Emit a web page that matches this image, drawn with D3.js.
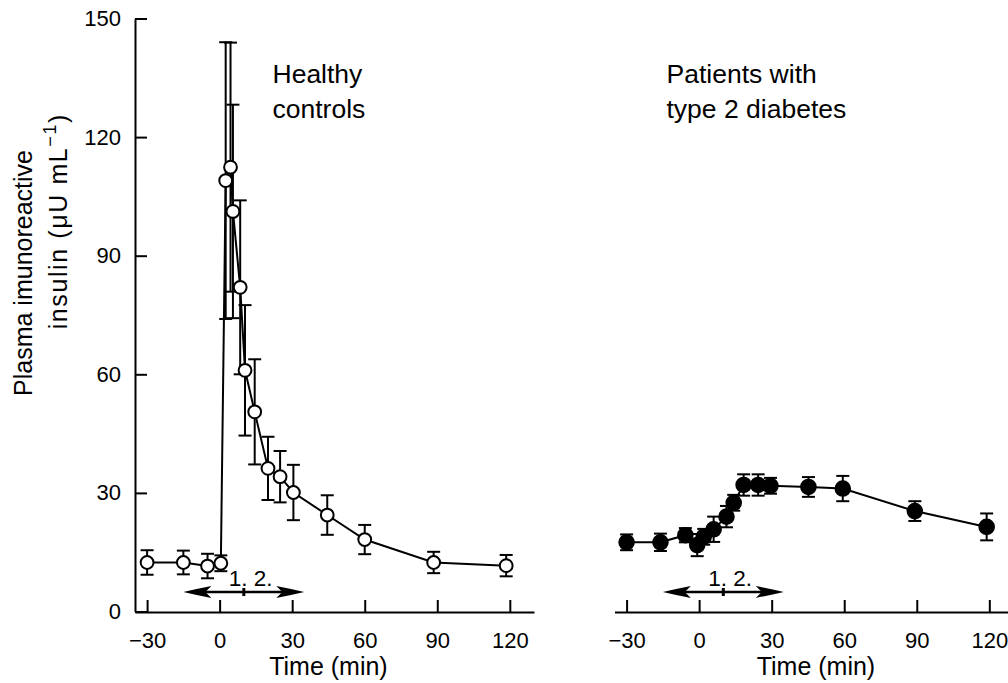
<!DOCTYPE html>
<html>
<head>
<meta charset="utf-8">
<script src="https://cdn.jsdelivr.net/npm/d3@7"></script>
<style>
  html, body { margin: 0; padding: 0; background: #fff; }
  svg { display: block; font-family: "Liberation Sans", Arial, Helvetica, sans-serif; }
</style>
</head>
<body>
<svg id="chart" width="1008" height="683"></svg>
<script>
// Healthy controls (open circles): time (min), mean insulin, SE
const healthyTime  = [-30, -15, -5, 0.5, 2.5, 4.5, 5.5, 8.5, 10.5, 14.5, 20, 25, 30.5, 44.5, 60, 88.5, 118.5];
const healthyMean  = [12.4, 12.4, 11.5, 12.2, 109, 112.4, 101.2, 82, 61, 50.5, 36.2, 34.1, 30.1, 24.4, 18.2, 12.4, 11.6];
const healthySE    = [3.1, 3, 3.1, 2, 35, 31.5, 27, 22, 16.5, 13.3, 8, 6.5, 7, 5, 3.7, 2.7, 2.7];

// Patients with type 2 diabetes (filled circles)
const diabetesTime = [-30, -16, -5.7, -0.8, 1.9, 6, 11.3, 14.3, 18.4, 24.4, 29.5, 45.2, 59.4, 89.2, 118.9];
const diabetesMean = [17.5, 17.5, 19.3, 16.8, 18.9, 20.8, 24, 27.5, 32, 32, 31.8, 31.5, 31.1, 25.4, 21.4];
const diabetesSE   = [2, 2.2, 1.8, 2.8, 2, 3.2, 2.7, 2, 2.7, 2.7, 2, 2.5, 3.2, 2.5, 3.4];

// Axis ticks
const xMajorTicks = [-30, 0, 30, 60, 90, 120];
const xMinorTicks = d3.range(-30, 131, 10);
const yMajorTicks = [0, 30, 60, 90, 120, 150];
const yMinorTicks = d3.range(0, 151, 15);

// Infusion period marker: from -15 to 35 min, split at 10 min
const infusionSpan = [-15, 35];
const infusionSplit = 10;

const svg = d3.select("#chart");

const y = d3.scaleLinear().domain([0, 150]).range([611.5, 18.5]);
const xLeft = d3.scaleLinear().domain([-35, 130]).range([135, 534]);
const xRight = d3.scaleLinear().domain([-35, 130]).range([614.5, 1013.5]);
const axisY = 612;

const toRows = (t, m, s) => t.map((d, i) => ({ t: d, v: m[i], se: s[i] }));
const healthy = toRows(healthyTime, healthyMean, healthySE);
const diabetes = toRows(diabetesTime, diabetesMean, diabetesSE);

function drawXAxis(x) {
  const g = svg.append("g").attr("transform", `translate(0,${axisY})`);
  g.call(d3.axisBottom(x).tickValues(xMinorTicks).tickSize(-6).tickSizeOuter(0).tickFormat(""));
  g.call(d3.axisBottom(x).tickValues(xMajorTicks).tickSize(-12).tickSizeOuter(0).tickPadding(20)
           .tickFormat(d => d < 0 ? "\u2212" + Math.abs(d) : d));
  g.selectAll("path.domain").attr("stroke", "#000").attr("stroke-width", 2);
  g.selectAll("line").attr("stroke", "#000").attr("stroke-width", 2);
  g.selectAll("text").attr("font-size", 22).attr("fill", "#000")
    .attr("font-family", "'Liberation Sans', Arial, sans-serif");
}

function drawYAxis(x) {
  const g = svg.append("g").attr("transform", `translate(${x.range()[0]},0)`);
  g.call(d3.axisLeft(y).tickValues(yMinorTicks).tickSize(-6).tickSizeOuter(0).tickFormat(""));
  g.call(d3.axisLeft(y).tickValues(yMajorTicks).tickSize(-12).tickSizeOuter(0).tickPadding(14));
  g.selectAll("path.domain").attr("stroke", "#000").attr("stroke-width", 2);
  g.selectAll("line").attr("stroke", "#000").attr("stroke-width", 2);
  g.selectAll("text").attr("font-size", 22).attr("fill", "#000")
    .attr("font-family", "'Liberation Sans', Arial, sans-serif");
}

function drawSeries(x, rows, filled) {
  const g = svg.append("g");
  const cap = 6.5;
  const eb = g.selectAll("g.eb").data(rows).join("g").attr("class", "eb")
    .attr("stroke", "#000").attr("stroke-width", 2);
  eb.append("line")
    .attr("x1", d => x(d.t)).attr("x2", d => x(d.t))
    .attr("y1", d => y(d.v + d.se)).attr("y2", d => y(d.v - d.se));
  eb.append("line")
    .attr("x1", d => x(d.t) - cap).attr("x2", d => x(d.t) + cap)
    .attr("y1", d => y(d.v + d.se)).attr("y2", d => y(d.v + d.se));
  eb.append("line")
    .attr("x1", d => x(d.t) - cap).attr("x2", d => x(d.t) + cap)
    .attr("y1", d => y(d.v - d.se)).attr("y2", d => y(d.v - d.se));

  g.append("path").datum(rows)
    .attr("fill", "none").attr("stroke", "#000").attr("stroke-width", 2)
    .attr("d", d3.line().x(d => x(d.t)).y(d => y(d.v)));

  g.selectAll("circle").data(rows).join("circle")
    .attr("cx", d => x(d.t)).attr("cy", d => y(d.v))
    .attr("r", filled ? 7.3 : 6.4)
    .attr("fill", filled ? "#000" : "#fff")
    .attr("stroke", "#000").attr("stroke-width", 2);
}

function drawInfusion(x) {
  const ay = 592;
  const x1 = x(infusionSpan[0]), x2 = x(infusionSpan[1]), xm = x(infusionSplit);
  const g = svg.append("g");
  g.append("line").attr("x1", x1 + 15).attr("x2", x2 - 15).attr("y1", ay).attr("y2", ay)
    .attr("stroke", "#000").attr("stroke-width", 2.5);
  const headLen = 28, half = 6, notch = 22;
  g.append("path")
    .attr("d", `M${x1},${ay} Q${x1 + headLen * 0.5},${ay - half * 0.55} ${x1 + headLen},${ay - half} L${x1 + notch},${ay} L${x1 + headLen},${ay + half} Q${x1 + headLen * 0.5},${ay + half * 0.55} ${x1},${ay} Z`)
    .attr("fill", "#000");
  g.append("path")
    .attr("d", `M${x2},${ay} Q${x2 - headLen * 0.5},${ay - half * 0.55} ${x2 - headLen},${ay - half} L${x2 - notch},${ay} L${x2 - headLen},${ay + half} Q${x2 - headLen * 0.5},${ay + half * 0.55} ${x2},${ay} Z`)
    .attr("fill", "#000");
  g.append("line").attr("x1", xm).attr("x2", xm).attr("y1", ay - 4).attr("y2", ay + 4)
    .attr("stroke", "#000").attr("stroke-width", 3);
  g.append("text").attr("x", xm - 15).attr("y", 586)
    .attr("font-size", 22.5).attr("fill", "#000").text("1. 2.");
}

// Left panel: healthy controls
drawXAxis(xLeft);
drawYAxis(xLeft);
drawInfusion(xLeft);
drawSeries(xLeft, healthy, false);

// Right panel: type 2 diabetes
drawXAxis(xRight);
drawInfusion(xRight);
drawSeries(xRight, diabetes, true);

// Axis titles
svg.append("text").attr("x", xLeft(45)).attr("y", 675).attr("text-anchor", "middle")
  .attr("font-size", 25).text("Time (min)");
svg.append("text").attr("x", xRight(45) + 8).attr("y", 675).attr("text-anchor", "middle")
  .attr("font-size", 25).text("Time (min)");

const yTitle = svg.append("g");
yTitle.append("text").attr("transform", "translate(32,150) rotate(-90)")
  .attr("text-anchor", "end").attr("font-size", 25).text("Plasma imunoreactive");
const t2 = yTitle.append("text").attr("transform", "translate(66.5,113) rotate(-90)")
  .attr("text-anchor", "end").attr("font-size", 25).attr("letter-spacing", 1.6);
t2.append("tspan").text("insulin (\u03BCU mL");
t2.append("tspan").attr("font-size", 18).attr("dy", -11).text("\u22121");
t2.append("tspan").attr("dy", 11).text(")");

// Panel titles
const titles = [
  { x: 272.5, lines: ["Healthy", "controls"] },
  { x: 666.5, lines: ["Patients with", "type 2 diabetes"] }
];
titles.forEach(tt => {
  tt.lines.forEach((s, i) => {
    svg.append("text").attr("x", tt.x).attr("y", 83 + i * 35)
      .attr("font-size", 26.5).text(s);
  });
});
</script>
</body>
</html>
